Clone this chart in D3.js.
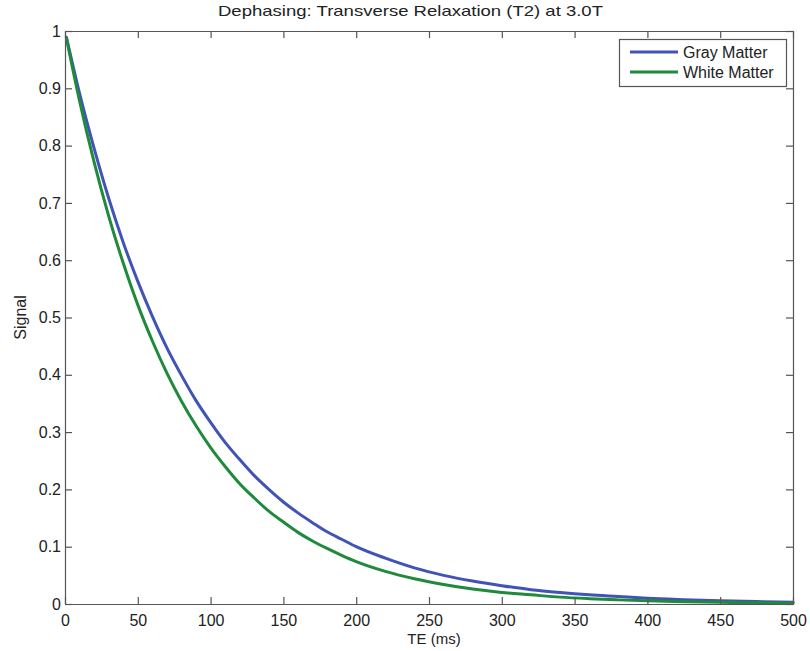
<!DOCTYPE html>
<html>
<head>
<meta charset="utf-8">
<script src="https://cdn.jsdelivr.net/npm/d3@7"></script>
<style>
  html, body { margin: 0; padding: 0; background: #fff; }
  svg text { font-family: "Liberation Sans", Arial, Helvetica, sans-serif; fill: #222; }
</style>
</head>
<body>
<svg id="chart" width="810" height="651"></svg>
<script>
// ---- data ----
const te = [1, 10, 20, 30, 40, 50, 60, 70, 80, 90, 100, 110, 120, 130, 140, 150, 160, 170, 180, 190, 200,
            220, 240, 260, 280, 300, 320, 340, 360, 380, 400, 425, 450, 475, 500];
const grayMatter = [0.989, 0.891, 0.795, 0.708, 0.631, 0.563, 0.502, 0.447, 0.399, 0.355, 0.317, 0.282, 0.252,
                    0.224, 0.200, 0.178, 0.159, 0.142, 0.126, 0.113, 0.100,
                    0.080, 0.063, 0.050, 0.040, 0.032, 0.025, 0.020, 0.016, 0.013, 0.010, 0.0076, 0.0057, 0.0043, 0.0032];
const whiteMatter = [0.987, 0.878, 0.771, 0.677, 0.595, 0.522, 0.459, 0.403, 0.354, 0.311, 0.273, 0.240, 0.210,
                     0.185, 0.162, 0.143, 0.125, 0.110, 0.097, 0.085, 0.074,
                     0.057, 0.044, 0.034, 0.026, 0.020, 0.016, 0.012, 0.0093, 0.0072, 0.0055, 0.0040, 0.0029, 0.0021, 0.0015];
const seriesNames = ["Gray Matter", "White Matter"];
const xTicks = [0, 50, 100, 150, 200, 250, 300, 350, 400, 450, 500];
const yTicks = [0, 0.1, 0.2, 0.3, 0.4, 0.5, 0.6, 0.7, 0.8, 0.9, 1];
const titleText = "Dephasing: Transverse Relaxation (T2) at 3.0T";
const xLabel = "TE (ms)";
const yLabel = "Signal";

// ---- layout ----
const colors = ["#4053b6", "#1f8a3b"];
const m = { left: 65, right: 810 - 793, top: 31, bottom: 651 - 604 };
const W = 810, H = 651;
const svg = d3.select("#chart");

const x = d3.scaleLinear().domain([0, 500]).range([m.left, W - m.right]);
const y = d3.scaleLinear().domain([0, 1]).range([H - m.bottom, m.top]);
const axisColor = "#555";
const tickLen = 7;

// curves
const series = [grayMatter, whiteMatter];
const line = d3.line().x((d, i) => x(te[i])).y(d => y(d)).curve(d3.curveMonotoneX);
series.forEach((s, k) => {
  svg.append("path").datum(s).attr("d", line)
    .attr("fill", "none").attr("stroke", colors[k]).attr("stroke-width", 3)
    .attr("stroke-linejoin", "round").attr("stroke-linecap", "round");
});

// axes (MATLAB-like boxed with inward ticks)
function styleAxis(g) {
  g.select(".domain").attr("stroke", axisColor).attr("stroke-width", 1.2);
  g.selectAll(".tick line").attr("stroke", axisColor).attr("stroke-width", 1.2);
  g.selectAll(".tick text").attr("fill", "#222").style("font-size", "16px")
   .style("font-family", '"Liberation Sans", Arial, Helvetica, sans-serif');
}
const fmt = d => d3.format("~g")(d);

svg.append("g").attr("transform", `translate(0,${y(0)})`)
  .call(d3.axisBottom(x).tickValues(xTicks).tickFormat(fmt).tickSizeInner(-tickLen).tickSizeOuter(0).tickPadding(11))
  .call(styleAxis);
svg.append("g").attr("transform", `translate(0,${y(1)})`)
  .call(d3.axisTop(x).tickValues(xTicks).tickFormat("").tickSizeInner(-tickLen).tickSizeOuter(0))
  .call(styleAxis);
svg.append("g").attr("transform", `translate(${x(0)},0)`)
  .call(d3.axisLeft(y).tickValues(yTicks).tickFormat(fmt).tickSizeInner(-tickLen).tickSizeOuter(0).tickPadding(4))
  .call(styleAxis);
svg.append("g").attr("transform", `translate(${x(500)},0)`)
  .call(d3.axisRight(y).tickValues(yTicks).tickFormat("").tickSizeInner(-tickLen).tickSizeOuter(0))
  .call(styleAxis);

// titles
svg.append("text").attr("x", 218).attr("y", 16)
  .attr("textLength", 385).attr("lengthAdjust", "spacingAndGlyphs")
  .style("font-size", "15px").text(titleText);
svg.append("text").attr("x", 434).attr("y", 644).attr("text-anchor", "middle")
  .style("font-size", "15px").text(xLabel);
svg.append("text").attr("transform", `translate(26,${(y(0) + y(1)) / 2}) rotate(-90)`)
  .attr("text-anchor", "middle").style("font-size", "16px").text(yLabel);

// legend
const lg = svg.append("g");
lg.append("rect").attr("x", 619.5).attr("y", 39.5).attr("width", 167).attr("height", 47)
  .attr("fill", "#fff").attr("stroke", axisColor).attr("stroke-width", 1.2);
seriesNames.forEach((n, k) => {
  const yy = 52 + k * 20;
  lg.append("line").attr("x1", 630).attr("x2", 678).attr("y1", yy).attr("y2", yy)
    .attr("stroke", colors[k]).attr("stroke-width", 3);
  lg.append("text").attr("x", 683).attr("y", yy + 6).style("font-size", "16px").text(n);
});
</script>
</body>
</html>
